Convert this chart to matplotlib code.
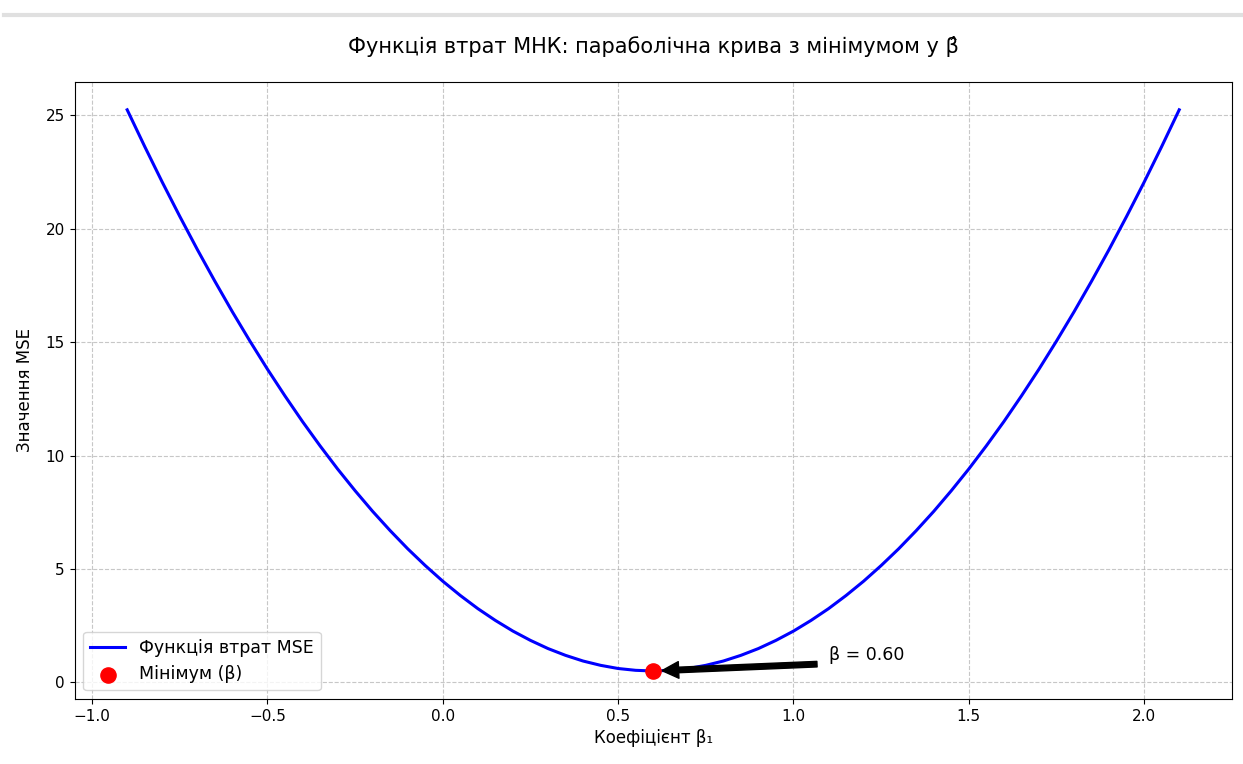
import matplotlib
matplotlib.use("Agg")
import matplotlib.pyplot as plt
from matplotlib.lines import Line2D

# coefficient values and the MSE
beta = [-0.90, -0.85, -0.80, -0.75, -0.70, -0.65, -0.60, -0.55, -0.50, -0.45,
        -0.40, -0.35, -0.30, -0.25, -0.20, -0.15, -0.10, -0.05, 0.00, 0.05,
        0.10, 0.15, 0.20, 0.25, 0.30, 0.35, 0.40, 0.45, 0.50, 0.55,
        0.60, 0.65, 0.70, 0.75, 0.80, 0.85, 0.90, 0.95, 1.00, 1.05,
        1.10, 1.15, 1.20, 1.25, 1.30, 1.35, 1.40, 1.45, 1.50, 1.55,
        1.60, 1.65, 1.70, 1.75, 1.80, 1.85, 1.90, 1.95, 2.00, 2.05, 2.10]
mse = [25.25, 23.63, 22.06, 20.55, 19.09, 17.69, 16.34, 15.05, 13.81, 12.63,
       11.50, 10.43, 9.41, 8.45, 7.54, 6.69, 5.89, 5.15, 4.46, 3.83,
       3.25, 2.73, 2.26, 1.85, 1.49, 1.19, 0.94, 0.75, 0.61, 0.53,
       0.50, 0.53, 0.61, 0.75, 0.94, 1.19, 1.49, 1.85, 2.26, 2.73,
       3.25, 3.83, 4.46, 5.15, 5.89, 6.69, 7.54, 8.45, 9.41, 10.43,
       11.50, 12.63, 13.81, 15.05, 16.34, 17.69, 19.09, 20.55, 22.06, 23.63, 25.25]

beta_hat = 0.60
mse_min = 0.50

fig, ax = plt.subplots(figsize=(12.43, 7.64), dpi=100)
fig.subplots_adjust(left=0.06, right=0.991, top=0.893, bottom=0.085)

# thin grey band at the top of the picture
fig.add_artist(Line2D([0.003, 1.0], [0.980, 0.980], transform=fig.transFigure,
                      color="#e0e0e0", linewidth=3))

ax.plot(beta, mse, color="blue", linewidth=2.2, label="Функція втрат MSE")
ax.scatter([beta_hat], [mse_min], color="red", s=120, zorder=5, label="Мінімум (β)")

ax.annotate(f"β = {beta_hat:.2f}", xy=(beta_hat, mse_min), xytext=(1.1, 1.0),
            arrowprops=dict(facecolor="black", shrink=0.05), fontsize=12.5)

ax.set_title("Функція втрат МНК: параболічна крива з мінімумом у β\u0302", fontsize=15, pad=21)
ax.set_xlabel("Коефіцієнт β₁", fontsize=12)
ax.set_ylabel("Значення MSE", fontsize=12, labelpad=8)
ax.tick_params(labelsize=11)
ax.grid(True, linestyle="--", alpha=0.7)
ax.legend(loc="lower left", fontsize=12.5)

fig.savefig("out.png", dpi=100)
